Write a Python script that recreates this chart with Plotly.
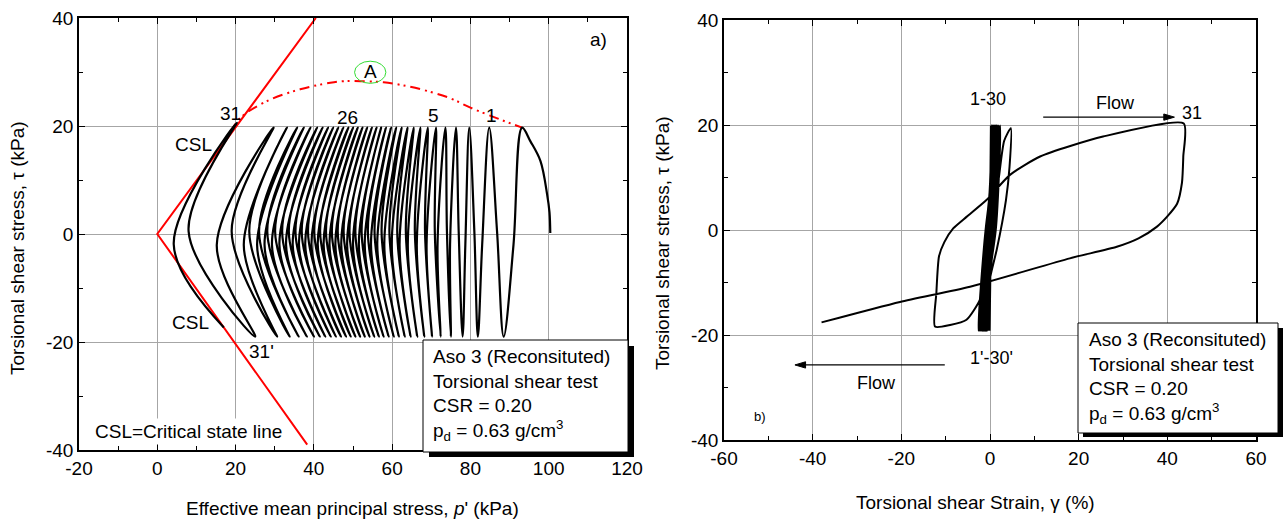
import plotly.graph_objects as go

# ---------------- Left panel data: stress path (p', tau) ----------------
init_p = [100.4, 100.2, 99.6, 97.9, 95.3]
init_tau = [0.2, 4.0, 7.3, 13.5, 17.2]

peak_p = [93.2, 84.8, 79.7, 76.3, 73.6, 71.2, 69.1, 67.2, 65.5, 63.9, 62.4, 61.0,
          59.7, 58.4, 57.2, 56.0, 54.8, 53.6, 52.4, 51.2, 50.0, 48.8, 47.5, 46.2,
          44.9, 43.6, 42.2, 40.8, 39.1, 37.4, 35.7, 33.1, 29.7]
down_min_p = [91.0, 83.0, 78.7, 74.8, 71.6, 68.8, 66.3, 64.0, 61.9, 59.9, 58.0, 56.2,
              54.6, 53.0, 51.5, 50.0, 48.5, 47.0, 45.5, 44.0, 42.5, 41.0, 39.4, 37.8,
              36.2, 34.6, 32.9, 31.2, 29.3, 27.4, 25.5, 22.1, 15.2]
trough_p = [88.5, 81.9, 78.0, 75.0, 72.4, 70.2, 68.2, 66.4, 64.7, 63.2, 61.7, 60.4,
            59.1, 57.8, 56.6, 55.4, 54.2, 53.0, 51.8, 50.6, 49.4, 48.2, 46.9, 45.6,
            44.3, 42.9, 41.5, 40.0, 38.2, 36.1, 33.8, 30.6, 25.0]
up_min_p = [86.8, 81.0, 77.0, 74.0, 70.9, 68.4, 65.8, 63.5, 61.3, 59.3, 57.3, 55.5,
            53.8, 52.2, 50.6, 49.1, 47.6, 46.1, 44.6, 43.1, 41.6, 40.1, 38.5, 36.9,
            35.3, 33.6, 31.9, 30.1, 28.1, 26.0, 23.5, 19.0, 8.0]
peak_tau = 19.7
down_min_tau = -2.0
trough_tau = -19.0
up_min_tau = 0.5
final_p = [20.3, 4.2, 17.0]
final_tau = [20.6, -1.9, -17.3]

csl_p = [40.5, 0.0, 38.3]
csl_tau = [40.0, 0.0, -39.0]

env_p = [18.7, 21.2, 28.0, 36.5, 44.2, 47.6, 52.0, 57.8, 63.0, 68.9, 75.0, 80.0, 87.6, 93.2]
env_tau = [18.8, 21.5, 24.6, 26.8, 28.0, 28.3, 28.3, 28.1, 27.5, 26.5, 25.1, 23.4, 21.2, 19.7]

# ---------------- Right panel data: stress-strain (gamma, tau) ----------------
band_up_mid_g = [0.1, 0.1, 0.2, 0.2, 0.2, 0.3, 0.3, 0.3, 0.4, 0.4, 0.4, 0.5, 0.5, 0.5, 0.6,
                 0.6, 0.7, 0.7, 0.7, 0.8, 0.8, 0.9, 0.9, 1.0, 1.0, 1.1, 1.1, 1.2, 1.3]
band_peak_g = [0.2, 0.2, 0.3, 0.3, 0.3, 0.4, 0.4, 0.4, 0.5, 0.5, 0.6, 0.6, 0.7, 0.7, 0.8,
               0.8, 0.9, 0.9, 1.0, 1.1, 1.1, 1.2, 1.3, 1.4, 1.5, 1.6, 1.8, 2.0, 2.3]
band_down_mid_g = [0.0, 0.0, -0.1, -0.1, -0.1, -0.1, -0.2, -0.2, -0.2, -0.3, -0.3, -0.3, -0.4,
                   -0.4, -0.4, -0.5, -0.5, -0.5, -0.6, -0.6, -0.6, -0.7, -0.7, -0.7, -0.8,
                   -0.8, -0.9, -0.9, -1.0]
band_trough_g = [-0.1, -0.1, -0.2, -0.2, -0.3, -0.3, -0.4, -0.4, -0.5, -0.5, -0.6, -0.7, -0.7,
                 -0.8, -0.9, -0.9, -1.0, -1.1, -1.2, -1.3, -1.4, -1.5, -1.6, -1.7, -1.8,
                 -2.0, -2.2, -2.4, -2.6]
band_peak_tau = 19.9
band_trough_tau = -19.2
band_mid_tau = 0.0

late_g = [0.3, 1.5, 3.6, 4.4, 4.7,
          3.2, 2.0, 1.0, 0.0, -1.3, -2.3, -5.3, -9.0, -12.4,
          -12.1, -11.5, -10.3, -8.3, -5.3, -0.8, 4.5, 11.3, 25.5, 43.7,
          43.6, 43.3, 42.2, 39.9, 37.6, 33.5, 28.6, 18.0, -4.5, -20.3, -38.0]
late_tau = [-8.0, -3.8, 5.7, 12.0, 19.4,
            17.0, 10.0, 4.0, -3.0, -9.0, -13.3, -17.1, -18.1, -18.4,
            -12.0, -5.0, -2.3, 0.3, 2.5, 5.7, 10.5, 14.0, 17.8, 20.3,
            14.0, 9.0, 5.0, 2.5, 0.6, -1.6, -3.2, -5.4, -10.8, -13.7, -17.6]

# tick labels
left_x_ticks = [-20, 0, 20, 40, 60, 80, 100, 120]
right_x_ticks = [-60, -40, -20, 0, 20, 40, 60]
y_ticks = [-40, -20, 0, 20, 40]

# ---------------- build paths ----------------
lp = list(init_p)
lt = list(init_tau)
for k in range(len(peak_p)):
    lp += [peak_p[k], down_min_p[k], trough_p[k], up_min_p[k]]
    lt += [peak_tau, down_min_tau, trough_tau, up_min_tau]
lp += final_p
lt += final_tau

rg, rt = [], []
for k in range(len(band_peak_g)):
    rg += [band_up_mid_g[k], band_peak_g[k], band_down_mid_g[k], band_trough_g[k]]
    rt += [band_mid_tau, band_peak_tau, band_mid_tau, band_trough_tau]
rg += late_g
rt += late_tau

FONT = "Liberation Sans, Arial, sans-serif"
fig = go.Figure()

fig.add_trace(go.Scatter(x=csl_p, y=csl_tau, mode="lines",
                         line=dict(color="#ff0000", width=2), xaxis="x", yaxis="y",
                         showlegend=False, hoverinfo="skip"))
fig.add_trace(go.Scatter(x=env_p, y=env_tau, mode="lines",
                         line=dict(color="#ff0000", width=2, shape="spline",
                                   dash="10px,5px,2px,4px,2px,5px"),
                         xaxis="x", yaxis="y", showlegend=False, hoverinfo="skip"))
fig.add_trace(go.Scatter(x=lp, y=lt, mode="lines",
                         line=dict(color="black", width=2.2, shape="spline", smoothing=1.0),
                         xaxis="x", yaxis="y", showlegend=False, hoverinfo="skip"))
fig.add_trace(go.Scatter(x=rg, y=rt, mode="lines",
                         line=dict(color="black", width=2, shape="spline", smoothing=0.6),
                         xaxis="x2", yaxis="y2", showlegend=False, hoverinfo="skip"))

W, H = 1285, 522
def px(x):
    return x / W
def py(y):
    return 1 - y / H

axis_common = dict(
    showline=True, linecolor="black", linewidth=1.5, mirror="allticks",
    ticks="inside", ticklen=6, tickwidth=1, tickcolor="black",
    showgrid=True, gridcolor="#a6a6a6", gridwidth=1, zeroline=False,
    tickfont=dict(family=FONT, size=19, color="black"),
    minor=dict(ticks="inside", ticklen=4, tickwidth=1, tickcolor="black",
               tickmode="linear", tick0=0, dtick=10, showgrid=False),
    tickmode="array", automargin=False,
)

fig.update_layout(
    width=W, height=H, margin=dict(l=0, r=0, t=0, b=0, autoexpand=False),
    paper_bgcolor="white", plot_bgcolor="white",
    font=dict(family=FONT, size=19, color="black"),
    xaxis=dict(domain=[px(79), px(627)], range=[-20, 120], anchor="y",
               tickvals=left_x_ticks, ticktext=[str(v) for v in left_x_ticks], **axis_common),
    yaxis=dict(domain=[py(450), py(18)], range=[-40, 40], anchor="x",
               tickvals=y_ticks, ticktext=[str(v) for v in y_ticks], **axis_common),
    xaxis2=dict(domain=[px(724), px(1256)], range=[-60, 60], anchor="y2",
                tickvals=right_x_ticks, ticktext=[str(v) for v in right_x_ticks], **axis_common),
    yaxis2=dict(domain=[py(440), py(20)], range=[-40, 40], anchor="x2",
                tickvals=y_ticks, ticktext=[str(v) for v in y_ticks], **axis_common),
)

shapes = []
# left legend box (shadow + box)
shapes.append(dict(type="rect", xref="paper", yref="paper", x0=px(429), x1=px(634),
                   y0=py(457), y1=py(346), fillcolor="black", line=dict(width=0), layer="above"))
shapes.append(dict(type="rect", xref="paper", yref="paper", x0=px(423), x1=px(628),
                   y0=py(452), y1=py(340), fillcolor="white", line=dict(color="black", width=1),
                   layer="above"))
# right legend box
shapes.append(dict(type="rect", xref="paper", yref="paper", x0=px(1083), x1=px(1283),
                   y0=py(437), y1=py(328), fillcolor="black", line=dict(width=0), layer="above"))
shapes.append(dict(type="rect", xref="paper", yref="paper", x0=px(1078), x1=px(1278),
                   y0=py(433), y1=py(323), fillcolor="white", line=dict(color="black", width=1),
                   layer="above"))
# green ellipse around A
shapes.append(dict(type="circle", xref="x", yref="y", x0=50.4, x1=58.4, y0=27.9, y1=32.0,
                   line=dict(color="#33dd33", width=1)))
# flow arrows (shaft + head)
shapes.append(dict(type="line", xref="x2", yref="y2", x0=12.0, x1=40.0, y0=21.5, y1=21.5,
                   line=dict(color="black", width=1.2)))
shapes.append(dict(type="path", xref="x2", yref="y2",
                   path="M 41.6,21.5 L 39.2,22.1 L 39.2,20.9 Z",
                   fillcolor="black", line=dict(color="black", width=1)))
shapes.append(dict(type="line", xref="x2", yref="y2", x0=-10.2, x1=-42.0, y0=-25.7, y1=-25.7,
                   line=dict(color="black", width=1.2)))
shapes.append(dict(type="path", xref="x2", yref="y2",
                   path="M -44.0,-25.7 L -41.6,-25.1 L -41.6,-26.3 Z",
                   fillcolor="black", line=dict(color="black", width=1)))
fig.update_layout(shapes=shapes)

box_text = ("Aso 3 (Reconsituted)<br>Torsional shear test<br>CSR = 0.20<br>"
            "p<sub>d</sub> = 0.63 g/cm<sup>3</sup>")

ann = []
def t(x, y, s, xref="x", yref="y", size=19, **kw):
    d = dict(x=x, y=y, text=s, xref=xref, yref=yref, showarrow=False,
             xanchor="center", yanchor="middle",
             font=dict(family=FONT, size=size, color="black"))
    d.update(kw)
    ann.append(d)

# left panel labels
t(112.7, 36.0, "a)")
t(54.4, 30.0, "A")
t(18.7, 22.3, "31")
t(9.3, 16.6, "CSL")
t(8.4, -16.4, "CSL")
t(26.7, -21.7, "31'")
t(48.5, 21.5, "26")
t(70.6, 21.9, "5")
t(85.3, 21.9, "1")
t(8.0, -36.5, "CSL=Critical state line", bgcolor="white", borderpad=2)
# right panel labels
t(-0.5, 24.9, "1-30", xref="x2", yref="y2", size=18)
t(28.2, 24.1, "Flow", xref="x2", yref="y2", size=18)
t(45.5, 22.3, "31", xref="x2", yref="y2", size=18)
t(0.4, -24.4, "1'-30'", xref="x2", yref="y2", size=18)
t(-25.6, -29.2, "Flow", xref="x2", yref="y2", size=18)
t(-51.9, -35.6, "b)", xref="x2", yref="y2", size=13)
# info boxes
t(px(431), py(344), box_text, xref="paper", yref="paper", xanchor="left", yanchor="top",
  align="left")
t(px(1087), py(327), box_text, xref="paper", yref="paper", xanchor="left", yanchor="top",
  align="left")
# axis titles
t(px(17), py(248), "Torsional shear stress, \u03c4 (kPa)", xref="paper", yref="paper",
  textangle=-90)
t(px(663), py(243), "Torsional shear stress, \u03c4 (kPa)", xref="paper", yref="paper",
  textangle=-90)
t(px(352), py(508), "Effective mean principal stress, <i>p</i>' (kPa)", xref="paper",
  yref="paper")
t(px(975), py(502), "Torsional shear Strain, \u03b3 (%)", xref="paper", yref="paper")

fig.update_layout(annotations=ann)
fig.write_html("out.html")
